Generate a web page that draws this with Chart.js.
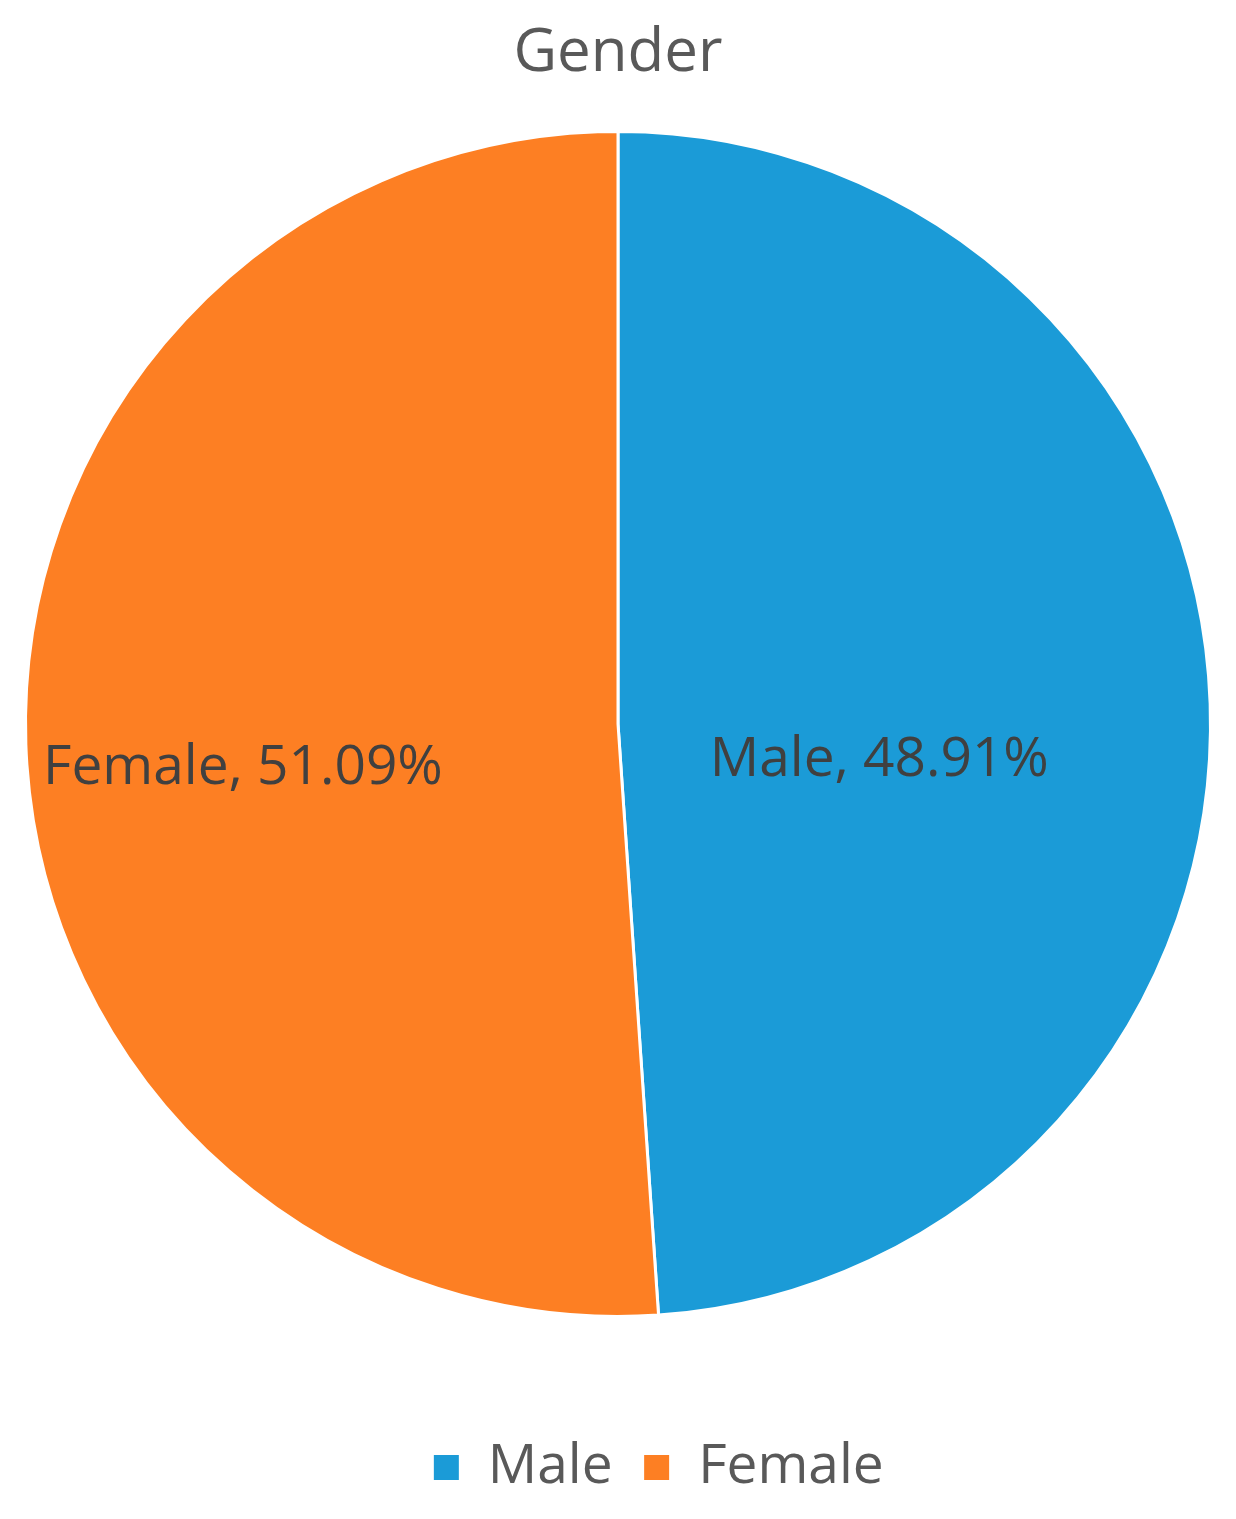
<!DOCTYPE html>
<html>
<head>
<meta charset="utf-8">
<script src="https://cdn.jsdelivr.net/npm/chart.js@4/dist/chart.umd.min.js"></script>
<style>
  html, body { margin: 0; padding: 0; background: #ffffff; }
  #wrap { width: 1236px; height: 1519px; position: relative; }
</style>
</head>
<body>
<div id="wrap"><canvas id="genderChart"></canvas></div>
<script>
// Data
const categories = ['Male', 'Female'];
const shares = [48.91, 51.09];
const sliceColors = ['#1b9bd7', '#fd7f23'];

// Label placement inside each slice (offset from centre, in radius units)
const labelOffsets = [[0.441, 0.061], [-0.633, 0.075]];

// Simple in-slice labels: "Name, 12.34%"
const sliceLabels = {
  id: 'sliceLabels',
  afterDatasetsDraw(chart) {
    const ctx = chart.ctx;
    const meta = chart.getDatasetMeta(0);
    ctx.save();
    ctx.font = '55px "Open Sans"';
    ctx.fillStyle = '#404040';
    ctx.textAlign = 'center';
    ctx.textBaseline = 'middle';
    meta.data.forEach((arc, i) => {
      const r = arc.outerRadius;
      const off = labelOffsets[i];
      const text = categories[i] + ', ' + shares[i].toFixed(2) + '%';
      ctx.fillText(text, arc.x + off[0] * r, arc.y + off[1] * r);
    });
    ctx.restore();
  }
};

// Nudge the legend: the original sits a bit right of centre and low
const legendNudge = {
  id: 'legendNudge',
  afterLayout(chart) {
    const lg = chart.legend;
    if (!lg) return;
    lg.left += 40; lg.right += 40;
    lg.top += 62; lg.bottom += 62;
  }
};

new Chart(document.getElementById('genderChart'), {
  type: 'pie',
  data: {
    labels: categories,
    datasets: [{
      data: shares,
      backgroundColor: sliceColors,
      borderColor: '#ffffff',
      borderWidth: 3,
      hoverOffset: 0
    }]
  },
  options: {
    responsive: true,
    maintainAspectRatio: false,
    animation: false,
    layout: { padding: { left: 24, right: 24, top: 0, bottom: 76 } },
    plugins: {
      title: {
        display: true,
        text: 'Gender',
        color: '#595959',
        font: { family: 'Open Sans', size: 60, weight: 'normal' },
        padding: { top: 18, bottom: 10 }
      },
      legend: {
        position: 'bottom',
        labels: {
          color: '#595959',
          font: { family: 'Open Sans', size: 55 },
          boxWidth: 28,
          boxHeight: 28,
          padding: 30
        }
      },
      tooltip: { enabled: false }
    }
  },
  plugins: [sliceLabels, legendNudge]
});
</script>
</body>
</html>
